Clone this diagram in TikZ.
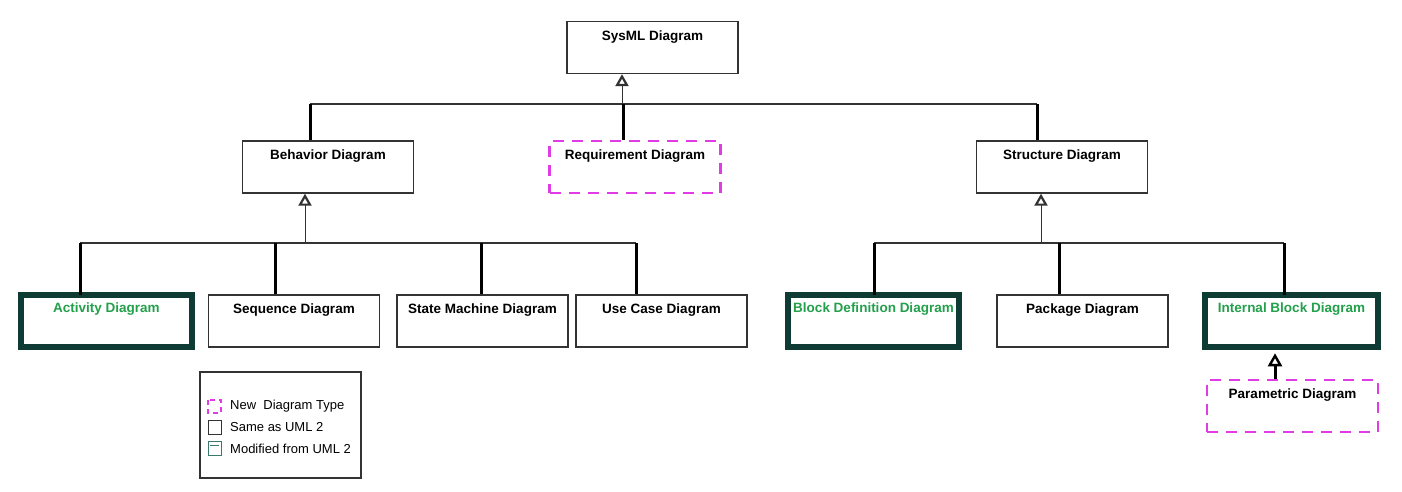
\documentclass[tikz,border=0pt]{standalone}
\usepackage{fontspec}
\setmainfont{Liberation Sans}
\usetikzlibrary{arrows.meta}
\definecolor{dteal}{HTML}{0F3B35}
\definecolor{mgreen}{HTML}{22A04B}
\definecolor{mag}{HTML}{E03CE6}
\definecolor{edge}{HTML}{333333}
\definecolor{legteal}{HTML}{3A7A6A}
\begin{document}
\begin{tikzpicture}[x=1pt,y=-1pt,
  box/.style={draw=edge, line width=1.4pt, fill=white, minimum width=171pt, minimum height=52pt, inner sep=0pt},
  newbox/.style={box, draw=mag, line width=2.8pt, dash pattern=on 11pt off 8pt},
  modbox/.style={box, draw=dteal, line width=6.5pt},
  lbl/.style={font=\bfseries\fontsize{13.5}{15}\selectfont, text=black, anchor=north, inner sep=0pt, yshift=-9.5pt},
  glbl/.style={lbl, text=mgreen, yshift=-1.5pt},
  bus/.style={draw=edge, line width=1.5pt},
  drop/.style={draw=black, line width=3pt},
  gen/.style={draw=edge, line width=1pt, -{Triangle[open, length=12pt, width=13pt, line width=2.2pt]}},
  legtxt/.style={font=\fontsize{13}{15}\selectfont, anchor=west, inner sep=0pt},
]
\useasboundingbox (0,0) rectangle (1402,492);
\fill[white] (0,0) rectangle (1402,492);

% boxes
\node[box, label={[lbl]north:SysML Diagram}] (sysml) at (652.5,47.5) {};
\node[box, label={[lbl]north:Behavior Diagram}] (behavior) at (328,167) {};
\node[newbox, label={[lbl]north:Requirement Diagram}] (req) at (635,167) {};
\node[box, label={[lbl]north:Structure Diagram}] (struct) at (1062,167) {};

\node[modbox, label={[glbl]north:Activity Diagram}] (activity) at (106.5,321) {};
\node[box, label={[lbl]north:Sequence Diagram}] (sequence) at (294,321) {};
\node[box, label={[lbl]north:State Machine Diagram}] (state) at (482.5,321) {};
\node[box, label={[lbl]north:Use Case Diagram}] (usecase) at (661.5,321) {};
\node[modbox, label={[glbl]north:Block Definition Diagram}] (bdd) at (873.5,321) {};
\node[box, label={[lbl]north:Package Diagram}] (package) at (1082.5,321) {};
\node[modbox, minimum width=173pt, label={[glbl]north:Internal Block Diagram}] (ibd) at (1291.5,321) {};
\node[newbox, label={[lbl]north:Parametric Diagram}] (param) at (1292.5,406) {};

% level 1 connectors
\coordinate (j0) at (622,104);
\coordinate (b0l) at (310,104);
\coordinate (b0r) at (1037,104);
\coordinate (b0m) at (623,104);
\draw[bus] (b0l) -- (b0r);
\draw[gen] (j0) -- (j0 |- sysml.south);
\draw[drop] (b0l) -- (b0l |- behavior.north);
\draw[drop] (b0m) -- (b0m |- req.north);
\draw[drop] (b0r) -- (b0r |- struct.north);

% behavior connectors
\coordinate (j1) at (305,243);
\coordinate (b1a) at (80,243);
\coordinate (b1b) at (275,243);
\coordinate (b1c) at (481,243);
\coordinate (b1d) at (636,243);
\draw[bus] (b1a) -- (b1d);
\draw[gen] (j1) -- (j1 |- behavior.south);
\draw[drop] (b1a) -- ([yshift=-3pt]b1a |- activity.north);
\draw[drop] (b1b) -- (b1b |- sequence.north);
\draw[drop] (b1c) -- (b1c |- state.north);
\draw[drop] (b1d) -- (b1d |- usecase.north);

% structure connectors
\coordinate (j2) at (1041,243);
\coordinate (b2a) at (874,243);
\coordinate (b2b) at (1059,243);
\coordinate (b2c) at (1284,243);
\draw[bus] (b2a) -- (b2c);
\draw[gen] (j2) -- (j2 |- struct.south);
\draw[drop] (b2a) -- ([yshift=-3pt]b2a |- bdd.north);
\draw[drop] (b2b) -- (b2b |- package.north);
\draw[drop] (b2c) -- ([yshift=-3pt]b2c |- ibd.north);

% parametric -> ibd
\coordinate (pj) at (1275,406);
\draw[draw=black, line width=3pt, -{Triangle[open, length=13pt, width=14pt, line width=2.4pt]}, shorten >=3pt] (pj |- param.north) -- (pj |- ibd.south);

% legend
\node[draw=edge, line width=1.2pt, minimum width=161pt, minimum height=106pt, inner sep=0pt] (legend) at (280.5,425) {};
\draw[mag, line width=1.6pt, dash pattern=on 5pt off 4pt] (208,400) rectangle (221,413);
\draw[edge, line width=1pt] (208,420) rectangle (221,434);
\draw[legteal, line width=1pt] (208,441) rectangle (221,455);
\draw[legteal, line width=1pt] (210,445) -- (219,445);
\node[legtxt] (l1) at (230,406.5) {New\ \ Diagram Type};
\node[legtxt] (l2) at (230,427.5) {Same as UML 2};
\node[legtxt] (l3) at (230,448.5) {Modified from UML 2};
\end{tikzpicture}
\end{document}
